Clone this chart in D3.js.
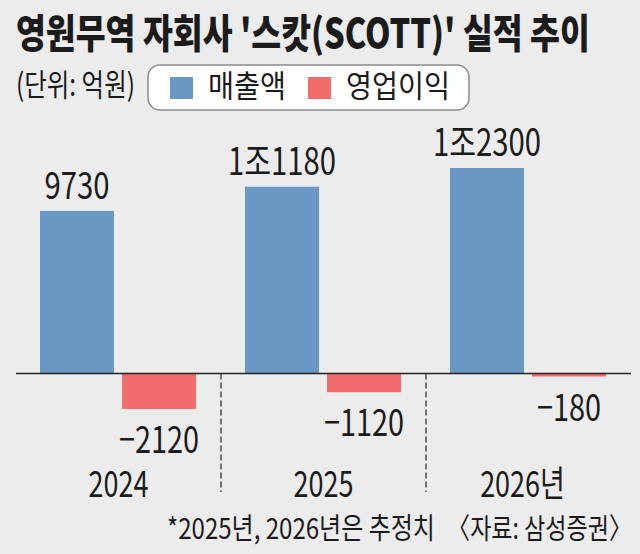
<!DOCTYPE html>
<html><head><meta charset="utf-8">
<script src="https://cdn.jsdelivr.net/npm/d3@7"></script>
<style>
body{margin:0;background:#ececec}
svg{display:block}
text{font-family:"Noto Sans CJK KR","Noto Sans",sans-serif;fill:#1b1b1b}
</style>
</head><body>
<svg id="c" width="640" height="554"></svg>
<script>
// ---- data ----
const years = ["2024", "2025", "2026"];
const yearLabels = ["2024", "2025", "2026년"];
const series = ["매출액", "영업이익"];
const sales = [9730, 11180, 12300];
const profit = [-2120, -1120, -180];
const salesLabels = ["9730", "1조1180", "1조2300"];
const profitLabels = ["−2120", "−1120", "−180"];
const colors = ["#6a98c4", "#f26c6c"];
const titleText = "영원무역 자회사 '스캇(SCOTT)' 실적 추이";
const unitText = "(단위: 억원)";
const noteText = "*2025년, 2026년은 추정치";
const sourceText = "〈자료: 삼성증권〉";

// ---- chart ----
const svg = d3.select("#c");
svg.append("rect").attr("width", 640).attr("height", 554).attr("fill", "#ececec");

// condensed text: drawn in a group scaled horizontally so its box stays true
function ctext(parent, x, y, str, size, opt) {
  const o = Object.assign({ anchor: "start", weight: 400 }, opt);
  const g = parent.append("g");
  const t = g.append("text").attr("x", 0).attr("y", 0)
    .attr("font-size", size).attr("font-weight", o.weight)
    .attr("text-anchor", o.anchor).text(str);
  const w = t.node().getComputedTextLength();
  const k = o.w ? o.w / w : o.k;
  g.attr("transform", `translate(${x},${y}) scale(${k},1)`);
  return g;
}

const x0 = d3.scaleBand().domain(years).range([16, 631]);
const x1 = d3.scaleBand().domain(series).range([24, 180]).paddingInner(0.0976);
const y = d3.scaleLinear().domain([0, 12300]).range([373.5, 168]);
const color = d3.scaleOrdinal().domain(series).range(colors);

const rows = years.map((yr, i) => ({ yr, i, vals: [sales[i], profit[i]] }));

// bars
const g = svg.append("g");
rows.forEach(r => {
  series.forEach((s, j) => {
    const v = r.vals[j];
    g.append("rect")
      .attr("x", x0(r.yr) + x1(s))
      .attr("y", Math.min(y(v), y(0)))
      .attr("width", x1.bandwidth())
      .attr("height", Math.abs(y(v) - y(0)))
      .attr("fill", color(s));
  });
});

// baseline
svg.append("line")
  .attr("x1", x0.range()[0]).attr("x2", x0.range()[1])
  .attr("y1", y(0)).attr("y2", y(0))
  .attr("stroke", "#222").attr("stroke-width", 1.6);

// dashed dividers
years.slice(1).forEach(yr => {
  svg.append("line")
    .attr("x1", x0(yr)).attr("x2", x0(yr))
    .attr("y1", y(0)).attr("y2", 492)
    .attr("stroke", "#333").attr("stroke-width", 1.3)
    .attr("stroke-dasharray", "6,3");
});

// value labels
const vl = svg.append("g");
rows.forEach(r => {
  ctext(vl, x0(r.yr) + x1(series[0]) + x1.bandwidth() / 2, y(sales[r.i]) - 12,
    salesLabels[r.i], 38, { anchor: "middle", k: 0.77 });
  ctext(vl, x0(r.yr) + x1(series[1]) + x1.bandwidth() / 2, y(profit[r.i]) + 44,
    profitLabels[r.i], 37, { anchor: "middle", k: 0.78 });
});

// year labels
const yl = svg.append("g");
years.forEach((yr, i) => {
  ctext(yl, x0(yr) + x0.bandwidth() / 2 - (i === 2 ? 6 : 0), 497,
    yearLabels[i], 36, { anchor: "middle", k: 0.75 });
});

// title
ctext(svg, 16, 48, titleText, 40, { weight: 900, w: 574 });

// unit
ctext(svg, 16, 96, unitText, 31, { w: 119 });

// legend
svg.append("rect").attr("x", 148).attr("y", 65).attr("width", 321).attr("height", 45)
  .attr("rx", 12).attr("fill", "#fff").attr("stroke", "#8c8c8c").attr("stroke-width", 1.5);
const legX = [170, 308];
const legW = [78, 104];
series.forEach((s, j) => {
  svg.append("rect").attr("x", legX[j]).attr("y", 77).attr("width", 23).attr("height", 22)
    .attr("fill", color(s));
  ctext(svg, legX[j] + 38, 97, s, 31, { w: legW[j] });
});

// footnote
ctext(svg, 167, 539, noteText, 29, { w: 268 });
ctext(svg, 632, 539, sourceText, 29, { anchor: "end", w: 185 });
</script>
</body></html>
